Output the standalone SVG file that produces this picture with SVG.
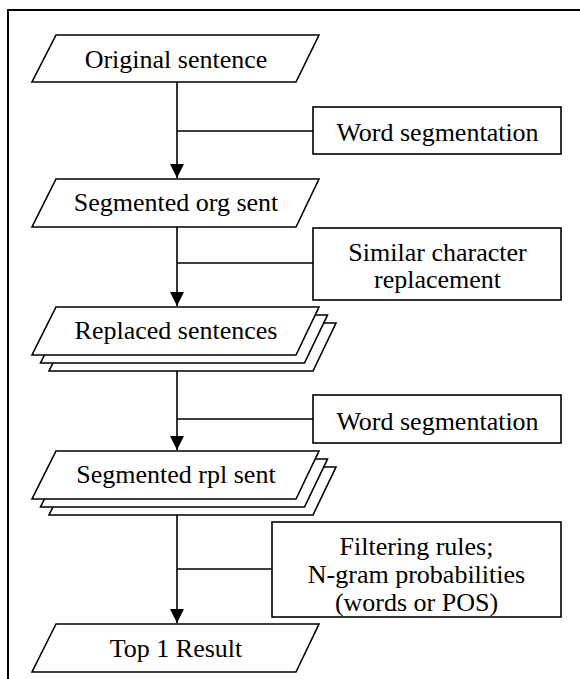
<svg xmlns="http://www.w3.org/2000/svg" width="580" height="679" viewBox="0 0 580 679">
<style>
.shape{fill:#fff;stroke:#000;stroke-width:1.6;stroke-linejoin:miter}
.line{fill:none;stroke:#000;stroke-width:1.6}
.t{font-family:"Liberation Serif","Times New Roman",serif;font-size:26px;fill:#000;text-anchor:middle}
</style>
<defs>
<marker id="arr" markerUnits="userSpaceOnUse" markerWidth="14" markerHeight="16" refX="14" refY="7" orient="auto">
<path d="M0,0 L14,7 L0,14 Z" fill="#000"/>
</marker>
</defs>
<rect x="8" y="10" width="640" height="720" fill="none" stroke="#000" stroke-width="2"/>
<g id="connectors">
<path class="line" d="M177,82 V178" marker-end="url(#arr)"/>
<path class="line" d="M177,131 H313"/>
<path class="line" d="M177,227 V306" marker-end="url(#arr)"/>
<path class="line" d="M177,263 H313"/>
<path class="line" d="M177,355 V450" marker-end="url(#arr)"/>
<path class="line" d="M177,419 H313"/>
<path class="line" d="M177,498 V623" marker-end="url(#arr)"/>
<path class="line" d="M177,569 H272"/>
</g>
<g id="n1">
<polygon class="shape" points="56,35 319,35 296,82 32,82"/>
<text class="t" x="176" y="68">Original sentence</text>
</g>
<g id="n2">
<rect class="shape" x="313" y="107" width="248" height="47"/>
<text class="t" x="437.5" y="141">Word segmentation</text>
</g>
<g id="n3">
<polygon class="shape" points="56,179 319,179 296,227 32,227"/>
<text class="t" x="176" y="211">Segmented org sent</text>
</g>
<g id="n4">
<rect class="shape" x="313" y="228" width="248" height="72"/>
<text class="t" x="437.5" y="261">Similar character</text>
<text class="t" x="437.5" y="288">replacement</text>
</g>
<g id="n5">
<polygon class="shape" points="73,323 336,323 313,371 49,371"/>
<polygon class="shape" points="64.5,315 327.5,315 304.5,363 40.5,363"/>
<polygon class="shape" points="56,307 319,307 296,355 32,355"/>
<text class="t" x="176" y="339">Replaced sentences</text>
</g>
<g id="n6">
<rect class="shape" x="313" y="395" width="248" height="48"/>
<text class="t" x="437.5" y="430">Word segmentation</text>
</g>
<g id="n7">
<polygon class="shape" points="73,467 336,467 313,515 49,515"/>
<polygon class="shape" points="64.5,459 327.5,459 304.5,507 40.5,507"/>
<polygon class="shape" points="56,451 319,451 296,499 32,499"/>
<text class="t" x="176" y="483">Segmented rpl sent</text>
</g>
<g id="n8">
<rect class="shape" x="272" y="522" width="289" height="95"/>
<text class="t" x="416.5" y="555">Filtering rules;</text>
<text class="t" x="416.5" y="583">N-gram probabilities</text>
<text class="t" x="416.5" y="611">(words or POS)</text>
</g>
<g id="n9">
<polygon class="shape" points="56,624 319,624 296,672 32,672"/>
<text class="t" x="176" y="657">Top 1 Result</text>
</g>
</svg>
